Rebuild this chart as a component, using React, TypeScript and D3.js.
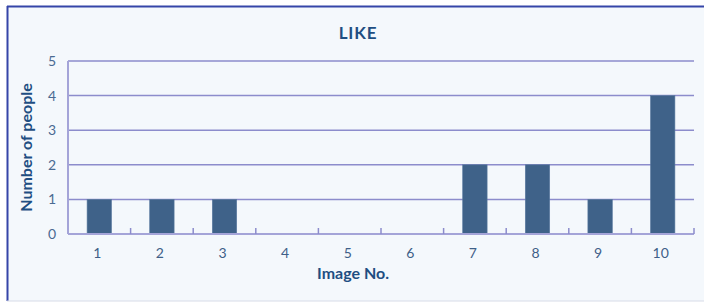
import React from "react";
import * as d3 from "d3";

const categories = ["1", "2", "3", "4", "5", "6", "7", "8", "9", "10"];
const values = [1, 1, 1, 0, 0, 0, 2, 2, 1, 4];
const yTicks = [0, 1, 2, 3, 4, 5];
const title = "LIKE";
const xTitle = "Image No.";
const yTitle = "Number of people";

export default function App() {
  const W = 704, H = 302;
  const left = 68, right = 694, top = 61, bottom = 234;
  const x = d3.scaleBand<string>().domain(categories).range([left, right]).paddingInner(0.61).paddingOuter(0.305);
  const xb = d3.scaleBand<string>().domain(categories).range([left, right]);
  const y = d3.scaleLinear().domain([0, 5]).range([bottom, top]);
  const font = "Lato, 'Open Sans', sans-serif";
  return (
    <svg width={W} height={H} style={{ position: "absolute", left: 0, top: 0 }} fontFamily={font}>
      <rect x={7} y={6} width={W} height={295} fill="#F4F8FC" stroke="none" />
      <line x1={7} y1={6.5} x2={W} y2={6.5} stroke="#3545A8" strokeWidth={2} />
      <line x1={7.5} y1={6} x2={7.5} y2={301} stroke="#3545A8" strokeWidth={2} />
      <line x1={7} y1={301} x2={W} y2={301} stroke="#D8DCE8" strokeWidth={1} />
      {yTicks.filter(t => t > 0).map(t => (
        <line key={t} x1={left} x2={right} y1={y(t)} y2={y(t)} stroke="#8C8CCC" strokeWidth={1.5} />
      ))}
      <line x1={left} x2={left} y1={top} y2={bottom} stroke="#A4A4D8" strokeWidth={2} />
      {categories.map((c, i) => (
        <rect key={c} x={x(c)} y={y(values[i])} width={x.bandwidth()} height={bottom - y(values[i])}
          fill="#3F6289" stroke="#5A7AA0" strokeWidth={0.6} />
      ))}
      <line x1={left} x2={right} y1={bottom} y2={bottom} stroke="#A4A4D8" strokeWidth={2} />
      {categories.map(c => (
        <line key={"t" + c} x1={(xb(c) as number) + xb.bandwidth()} x2={(xb(c) as number) + xb.bandwidth()}
          y1={bottom} y2={bottom - 6} stroke="#8C8CCC" strokeWidth={1.5} />
      ))}
      {yTicks.map(t => (
        <text key={t} x={56} y={y(t)} dy="0.35em" textAnchor="end" fontSize={14} fill="#4A6A92">{t}</text>
      ))}
      {categories.map(c => (
        <text key={"l" + c} x={(xb(c) as number) + xb.bandwidth() / 2 - 2} y={258} textAnchor="middle" fontSize={14} fill="#3F5F88">{c}</text>
      ))}
      <text x={358} y={39} textAnchor="middle" fontSize={17} fontWeight="bold" fill="#1F4E82" letterSpacing={0.8}>{title}</text>
      <text x={353} y={279} textAnchor="middle" fontSize={16} fontWeight="bold" fill="#1F4E82">{xTitle}</text>
      <text transform={`translate(32,${(top + bottom) / 2}) rotate(-90)`} textAnchor="middle" fontSize={16} fontWeight="bold" fill="#1F4E82">{yTitle}</text>
    </svg>
  );
}
